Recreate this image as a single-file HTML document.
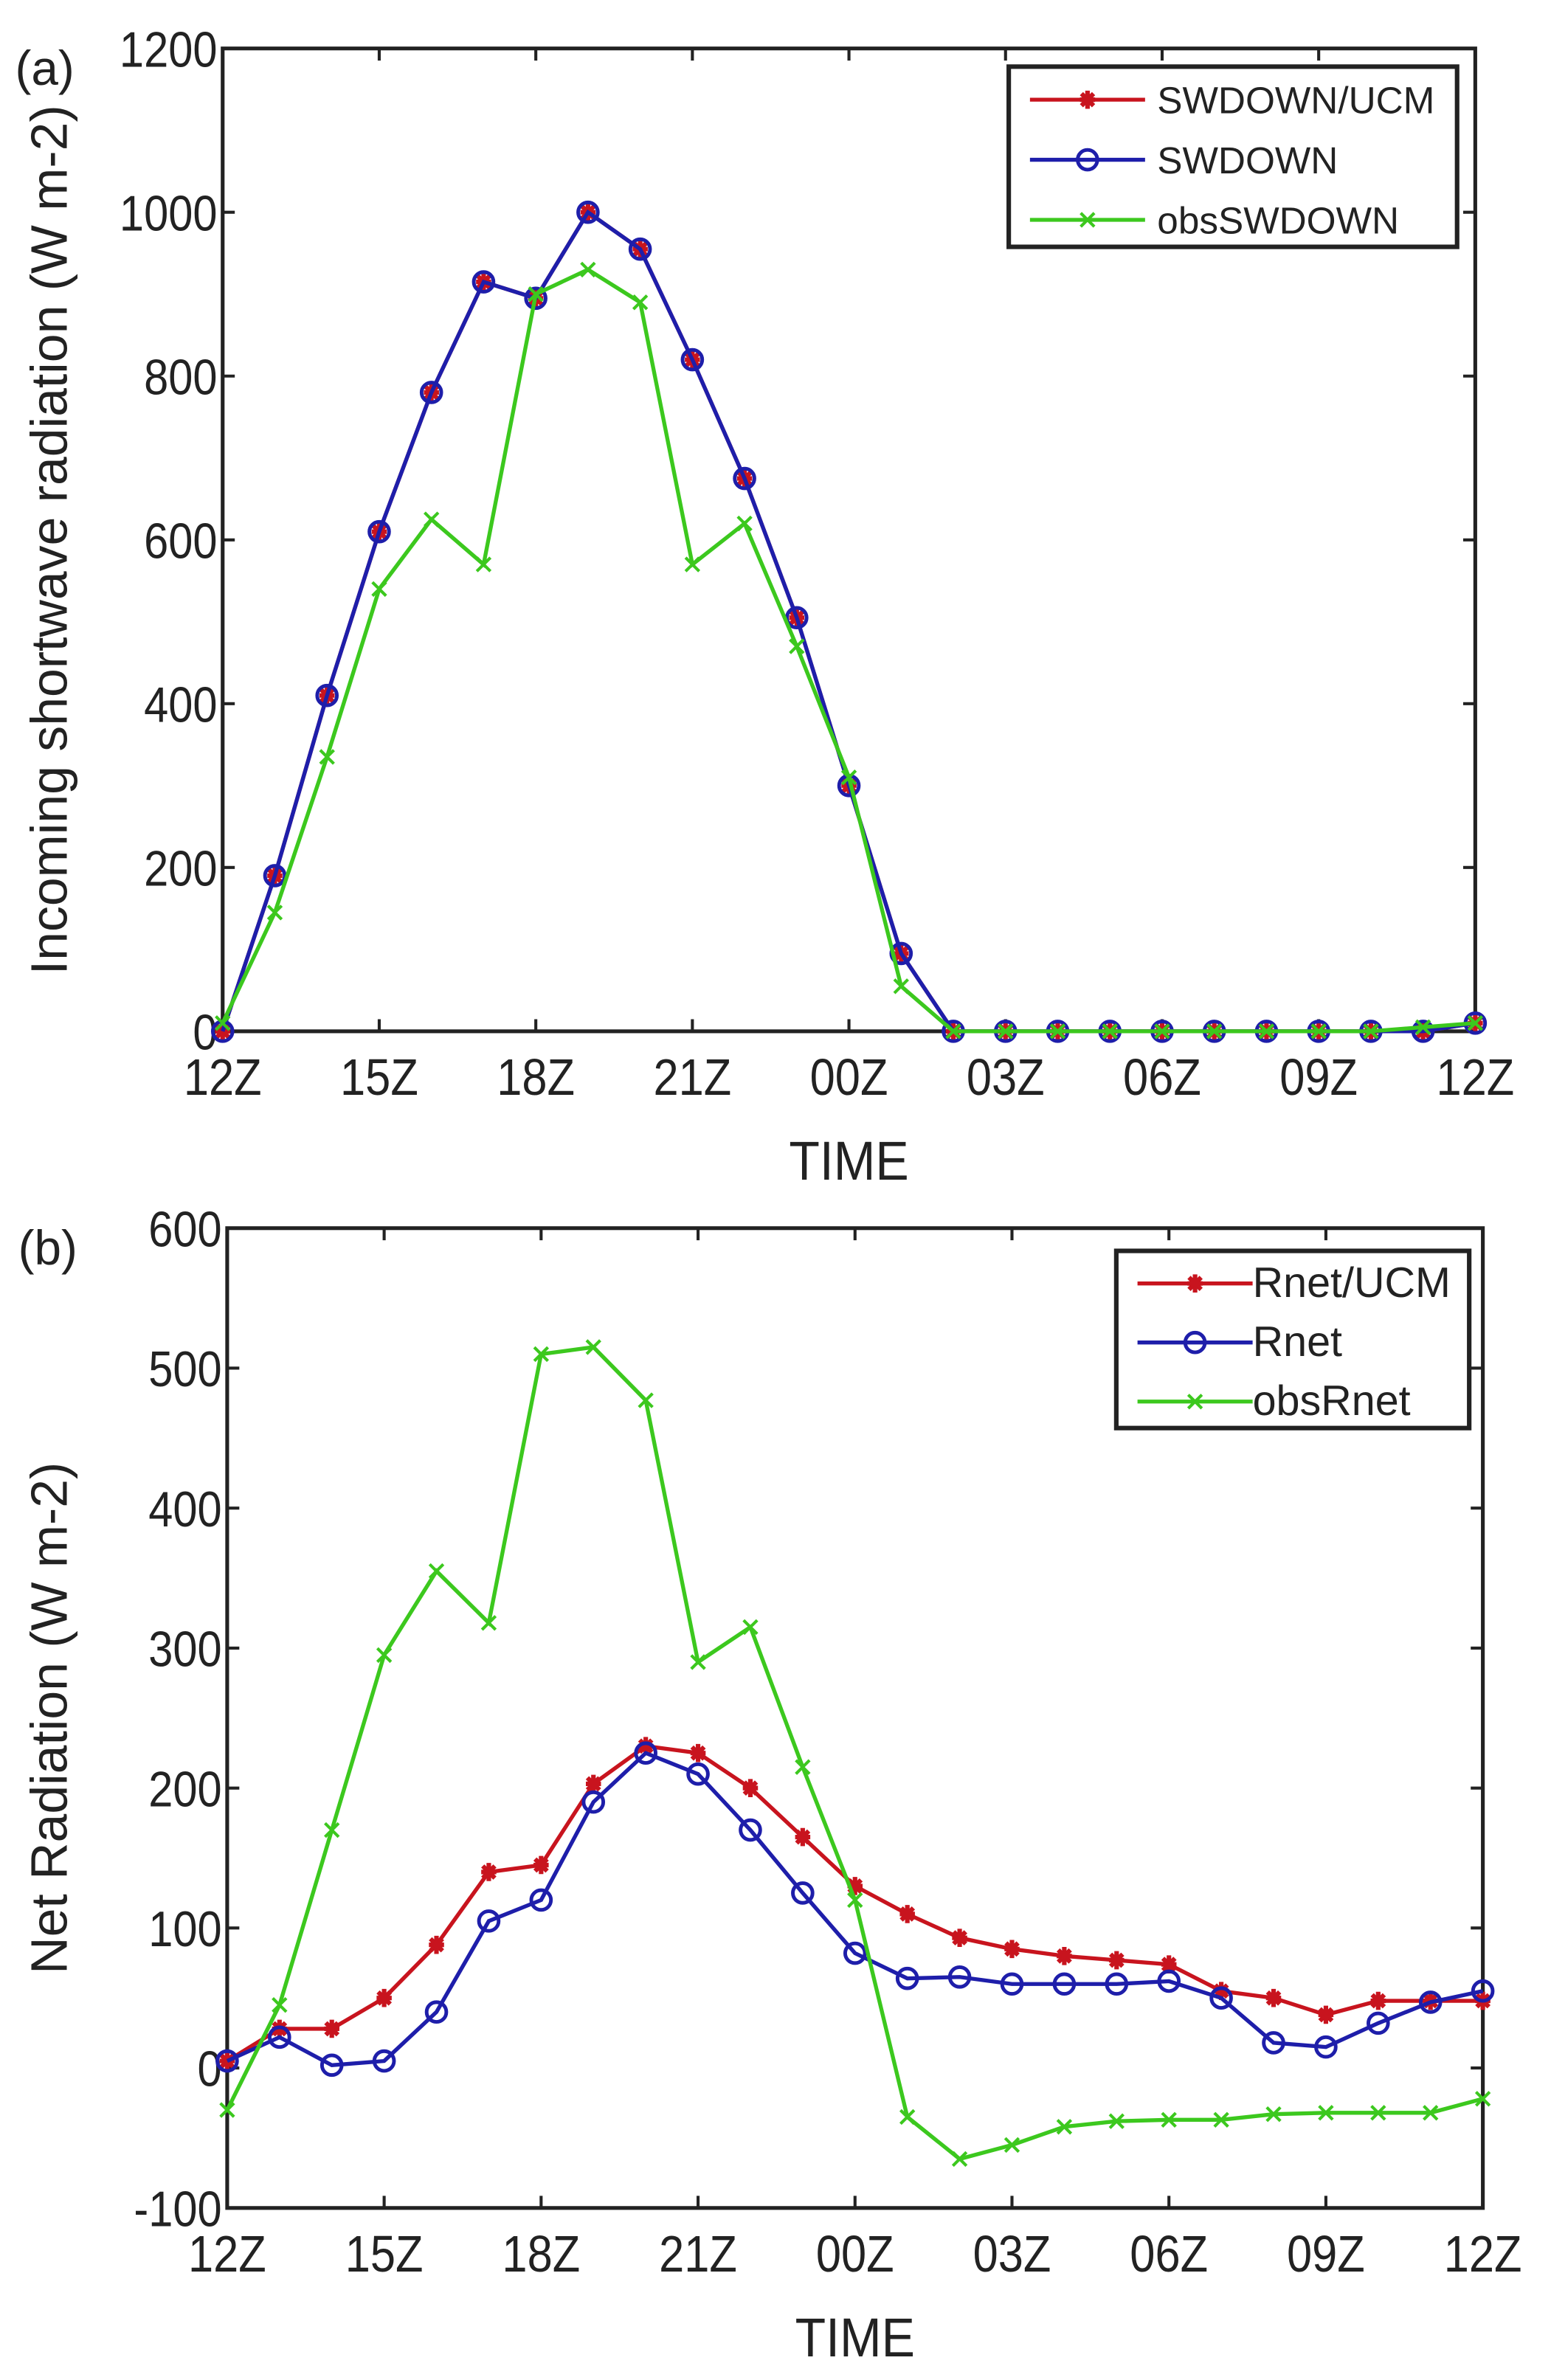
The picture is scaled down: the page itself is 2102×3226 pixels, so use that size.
<!DOCTYPE html>
<html><head><meta charset="utf-8">
<style>html,body{margin:0;padding:0;background:#fff}svg{display:block}</style>
</head><body>
<svg id="s" xmlns="http://www.w3.org/2000/svg" width="2102" height="3226" viewBox="0 0 1024 1571.6" preserveAspectRatio="none" font-family="Liberation Sans, sans-serif">
<rect width="1024" height="1572" fill="#fff"/>
</svg>
<script>
const S=document.getElementById('s');let h='';
function pts(P,d){return d.map((v,i)=>[P.l+(P.r-P.l)*i/24,P.y0+(v-P.v0)*(P.y1-P.y0)/(P.v1-P.v0)]);}
function line(p,c,w){return `<polyline points="${p.map(q=>q.join(',')).join(' ')}" fill="none" stroke="${c}" stroke-width="${w}"/>`;}
function mk(t,x,y,c){
 if(t=='o')return `<circle cx="${x}" cy="${y}" r="6.5" fill="none" stroke="${c}" stroke-width="2.4"/>`;
 if(t=='x')return `<path d="M${x-4.5},${y-4.5}L${x+4.5},${y+4.5}M${x-4.5},${y+4.5}L${x+4.5},${y-4.5}" stroke="${c}" stroke-width="2"/>`;
 return `<path d="M${x-5},${y}L${x+5},${y}M${x},${y-6}L${x},${y+6}M${x-4},${y-4}L${x+4},${y+4}M${x-4},${y+4}L${x+4},${y-4}" stroke="${c}" stroke-width="3"/>`;
}
function panel(P,series,yt,ylab,lab,leg){
 const xl=['12Z','15Z','18Z','21Z','00Z','03Z','06Z','09Z','12Z'];
 h+=`<rect x="${P.l}" y="${P.y1}" width="${P.r-P.l}" height="${P.y0-P.y1}" fill="none" stroke="#222" stroke-width="2.5"/>`;
 for(let i=0;i<9;i++){const x=P.l+(P.r-P.l)*i/8;
  h+=`<path d="M${x},${P.y0}v-8M${x},${P.y1}v8" stroke="#222" stroke-width="2"/>`;
  h+=`<text x="${x}" y="${P.y0+42}" font-size="34" text-anchor="middle" fill="#222" transform="translate(${x},0) scale(0.88,1) translate(${-x},0)">${xl[i]}</text>`;}
 yt.forEach(v=>{const y=P.y0+(v-P.v0)*(P.y1-P.y0)/(P.v1-P.v0);
  h+=`<path d="M${P.l},${y}h8M${P.r},${y}h-8" stroke="#222" stroke-width="2"/>`;
  h+=`<text x="${P.l-4}" y="${y+12}" font-size="33" text-anchor="end" fill="#222" transform="translate(${P.l},0) scale(0.88,1) translate(${-P.l},0)">${v}</text>`;});
 h+=`<text x="${(P.l+P.r)/2}" y="${P.y0+98}" font-size="36" text-anchor="middle" fill="#222" transform="translate(${(P.l+P.r)/2},0) scale(0.92,1) translate(${-(P.l+P.r)/2},0)">TIME</text>`;
 h+=`<text transform="translate(${P.yl},${(P.y0+P.y1)/2}) rotate(-90)" font-size="34" text-anchor="middle" fill="#222">${ylab}</text>`;
 h+=`<text x="${P.lx}" y="${P.y1+24}" font-size="32" fill="#222">${lab}</text>`;
 series.forEach(s=>{const p=pts(P,s.d);h+=line(p,s.c,2.6);p.forEach(q=>h+=mk(s.m,q[0],q[1],s.c));});
 const L=leg;h+=`<rect x="${L.x}" y="${L.y}" width="${L.w}" height="${L.h}" fill="#fff" stroke="#222" stroke-width="3"/>`;
 series.forEach((s,i)=>{const y=L.y+L.h*(i+0.5)/3+2;
  h+=`<path d="M${L.x+14},${y}h76" stroke="${s.c}" stroke-width="2.6"/>`+mk(s.m,L.x+52,y,s.c);
  h+=`<text x="${L.x+L.tx}" y="${y+9}" font-size="${L.fs}" fill="#222">${s.n}</text>`;});
}
panel({l:147,r:974,y0:681,y1:32,v0:0,v1:1200,yl:44,lx:10},
[{n:'SWDOWN/UCM',c:'#c8141e',m:'*',d:[0,190,410,610,780,915,895,1000,955,820,675,505,300,95,0,0,0,0,0,0,0,0,0,0,10]},
 {n:'SWDOWN',c:'#1e1eaa',m:'o',d:[0,190,410,610,780,915,895,1000,955,820,675,505,300,95,0,0,0,0,0,0,0,0,0,0,10]},
 {n:'obsSWDOWN',c:'#3cc81e',m:'x',d:[10,145,335,540,625,570,900,930,890,570,620,470,310,55,0,0,0,0,0,0,0,0,0,5,10]}],
[0,200,400,600,800,1000,1200],'Incoming shortwave radiation (W m-2)','(a)',{x:666,y:44,w:296,h:119,tx:98,fs:25});
panel({l:150,r:979,y0:1458,y1:811,v0:-100,v1:600,yl:44,lx:12},
[{n:'Rnet/UCM',c:'#c8141e',m:'*',d:[5,28,28,50,88,140,145,203,230,225,200,165,130,110,93,85,80,77,74,55,50,38,48,48,48]},
 {n:'Rnet',c:'#1e1eaa',m:'o',d:[5,22,2,5,40,105,120,190,225,210,170,125,82,64,65,60,60,60,62,50,18,15,32,47,55]},
 {n:'obsRnet',c:'#3cc81e',m:'x',d:[-30,45,170,295,355,318,510,515,477,290,315,215,120,-35,-65,-55,-42,-38,-37,-37,-33,-32,-32,-32,-22]}],
[-100,0,100,200,300,400,500,600],'Net Radiation (W m-2)','(b)',{x:737,y:826,w:233,h:117,tx:90,fs:28});
S.innerHTML+=h;
</script>
</body></html>
